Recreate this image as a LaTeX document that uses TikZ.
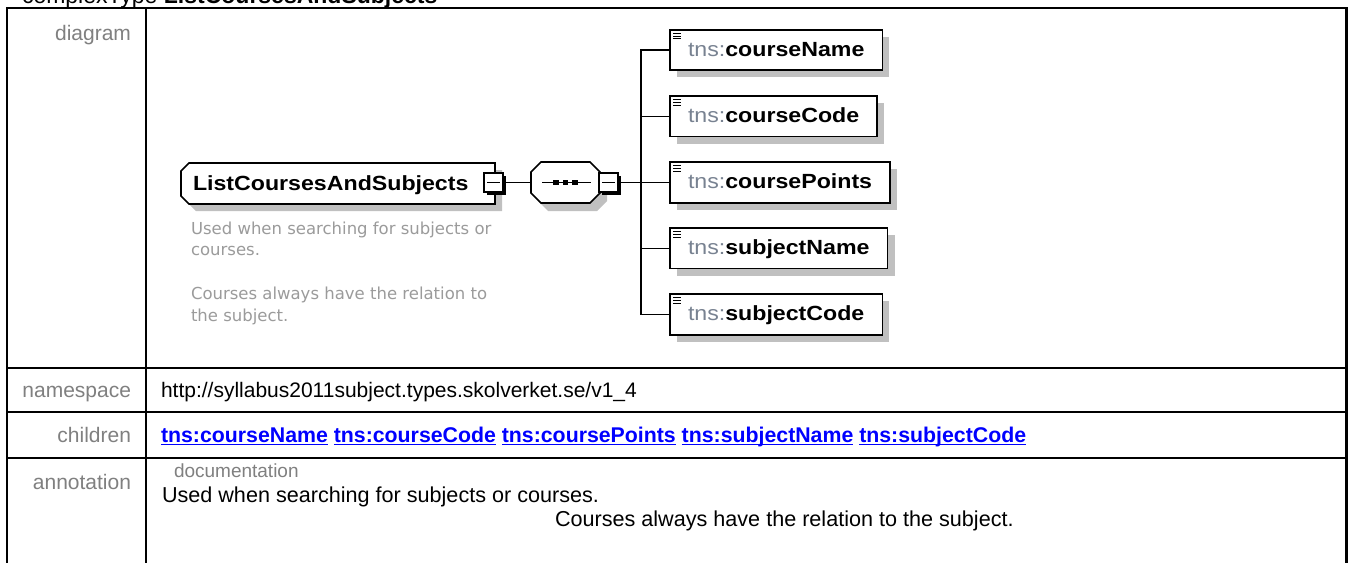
\documentclass[tikz,border=0pt]{standalone}
\usepackage{fontspec}
\setmainfont{Liberation Sans}
\newfontfamily\dfont[FakeStretch=1.13]{Liberation Sans}
\newfontfamily\descfont{DejaVu Sans}
\usetikzlibrary{calc,shadows}
\definecolor{lblgray}{RGB}{128,128,128}
\definecolor{descgray}{RGB}{155,155,155}
\definecolor{tnsgray}{RGB}{120,130,145}
\definecolor{shadowgray}{RGB}{192,192,192}
\definecolor{linkblue}{RGB}{0,0,255}
\tikzset{
  tbl/.style={line width=2.8pt},
  lbl/.style={anchor=base east, text=lblgray, font=\fontsize{21}{25}\selectfont},
  val/.style={anchor=base west, font=\fontsize{21}{25}\selectfont},
  annval/.style={anchor=base west, font=\fontsize{21.6}{25}\selectfont},
  lnk/.style={anchor=base west, text=linkblue, font=\fontsize{21.3}{25}\selectfont\bfseries},
  desc/.style={anchor=base west, text=descgray, font=\descfont\fontsize{16.5}{20}\selectfont},
  conn/.style={line width=1.4pt},
  childbox/.style={draw, line width=1.6pt, fill=white, anchor=west, inner xsep=18pt, inner ysep=0pt,
    minimum height=40.5pt, text height=16pt, text depth=4pt, font=\dfont\fontsize{20.5}{24}\selectfont,
    drop shadow={shadow xshift=7pt, shadow yshift=-7pt, fill=shadowgray, opacity=1, shadow scale=1}},
  minusbox/.style={draw, line width=1.6pt, fill=white, minimum width=19pt, minimum height=19pt,
    drop shadow={shadow xshift=2.5pt, shadow yshift=-2.5pt, fill=black, opacity=1, shadow scale=1}},
  elemtext/.style={anchor=base west, font=\dfont\bfseries\fontsize{20.5}{24}\selectfont},
}
\newcommand{\tnsname}[1]{{\color{tnsgray}tns:}\textbf{#1}}
\begin{document}
\begin{tikzpicture}[x=1pt,y=-1pt, every node/.style={inner sep=0pt, outer sep=0pt}]
\useasboundingbox (0,0) rectangle (1348,562);
\fill[white] (0,0) rectangle (1348,562);

% title (cut off at top)
\node[anchor=base west, font=\fontsize{23}{27}\selectfont] (title) at (22,3.5) {complexType \textbf{ListCoursesAndSubjects}};

% table
\draw[tbl] (7,575) -- (7,8) -- (1346.5,8) -- (1346.5,575);
\draw[tbl] (146,8) -- (146,575);
\foreach \yy in {368,412,458} \draw[tbl] (7,\yy) -- (1346.5,\yy);

\node[lbl] (ldiag) at (131,40) {diagram};
\node[lbl] (lns) at (131,397) {namespace};
\node[lbl] (lch) at (131,442) {children};
\node[lbl] (lann) at (131,489) {annotation};

\node[val] (ns) at (161,397) {http://syllabus2011subject.types.skolverket.se/v1\_4};

\node[lnk] (k1) at (161,442) {tns:courseName};
\node[lnk] (k2) at ($(k1.base east)+(5.9,0)$) {tns:courseCode};
\node[lnk] (k3) at ($(k2.base east)+(5.9,0)$) {tns:coursePoints};
\node[lnk] (k4) at ($(k3.base east)+(5.9,0)$) {tns:subjectName};
\node[lnk] (k5) at ($(k4.base east)+(5.9,0)$) {tns:subjectCode};
\foreach \k in {k1,k2,k3,k4,k5}
  \draw[linkblue, line width=1.4pt] ($(\k.base west)+(0,2.5)$) -- ($(\k.base east)+(0,2.5)$);

\node[anchor=base west, text=lblgray, font=\fontsize{19}{23}\selectfont] (doc) at (174,477) {documentation};
\node[annval] (a1) at (162,502) {Used when searching for subjects or courses.};
\node[annval] (a2) at (555,526) {Courses always have the relation to the subject.};

% element
\fill[shadowgray] (196,170) -- (502,170) -- (502,211) -- (196,211) -- (188,203) -- (188,178) -- cycle;
\draw[line width=1.6pt, fill=white] (189,163) -- (495,163) -- (495,204) -- (189,204) -- (181,196) -- (181,171) -- cycle;
\node[elemtext] (elem) at (193,190) {ListCoursesAndSubjects};
\node[desc] (d1) at (191,234) {Used when searching for subjects or};
\node[desc] (d2) at (191,255.5) {courses.};
\node[desc] (d3) at (191,299) {Courses always have the relation to};
\node[desc] (d4) at (191,321) {the subject.};

% sequence compositor
\fill[shadowgray] (548,170) -- (597,170) -- (607,180) -- (607,201) -- (597,211) -- (548,211) -- (538,201) -- (538,180) -- cycle;
\draw[line width=1.6pt, fill=white] (541,162) -- (590,162) -- (600,172) -- (600,193) -- (590,203) -- (541,203) -- (531,193) -- (531,172) -- cycle;
\node[minimum width=69pt, minimum height=41pt] (seq) at (565.5,182.5) {};
\draw[line width=1.3pt] ($(seq.center)+(-23.5,0)$) -- ($(seq.center)+(25.5,0)$);
\foreach \dx in {-9.5,0,9.5}
  \fill ($(seq.center)+(\dx-2.6,-2.6)$) rectangle ($(seq.center)+(\dx+2.6,2.6)$);

% minus boxes
\node[minusbox] (em) at (493.5,182.5) {};
\node[minusbox] (sm) at (608.5,182.5) {};
\foreach \m in {em,sm}
  \draw[line width=1.2pt] ($(\m.west)+(3,0)$) -- ($(\m.east)+(-3,0)$);

% children
\node[childbox] (c1) at (670,50) {\tnsname{courseName}};
\node[childbox] (c2) at (670,116.3) {\tnsname{courseCode}};
\node[childbox] (c3) at (670,182.5) {\tnsname{coursePoints}};
\node[childbox] (c4) at (670,248.3) {\tnsname{subjectName}};
\node[childbox] (c5) at (670,314.5) {\tnsname{subjectCode}};
\foreach \n in {c1,c2,c3,c4,c5}
  \foreach \dy in {3.5,6.2,8.9}
    \draw[line width=0.9pt] ($(\n.north west)+(3,\dy)$) -- ++(7.5,0);

% connectors
\coordinate (bus) at (641,182.5);
\draw[conn] (em.east) -- (seq.west);
\draw[conn] (sm.east) -- (bus);
\draw[conn] (c1.west) -| (bus);
\draw[conn] (c2.west) -| (bus);
\draw[conn] (c3.west) -- (bus);
\draw[conn] (c4.west) -| (bus);
\draw[conn] (c5.west) -| (bus);
\end{tikzpicture}
\end{document}
